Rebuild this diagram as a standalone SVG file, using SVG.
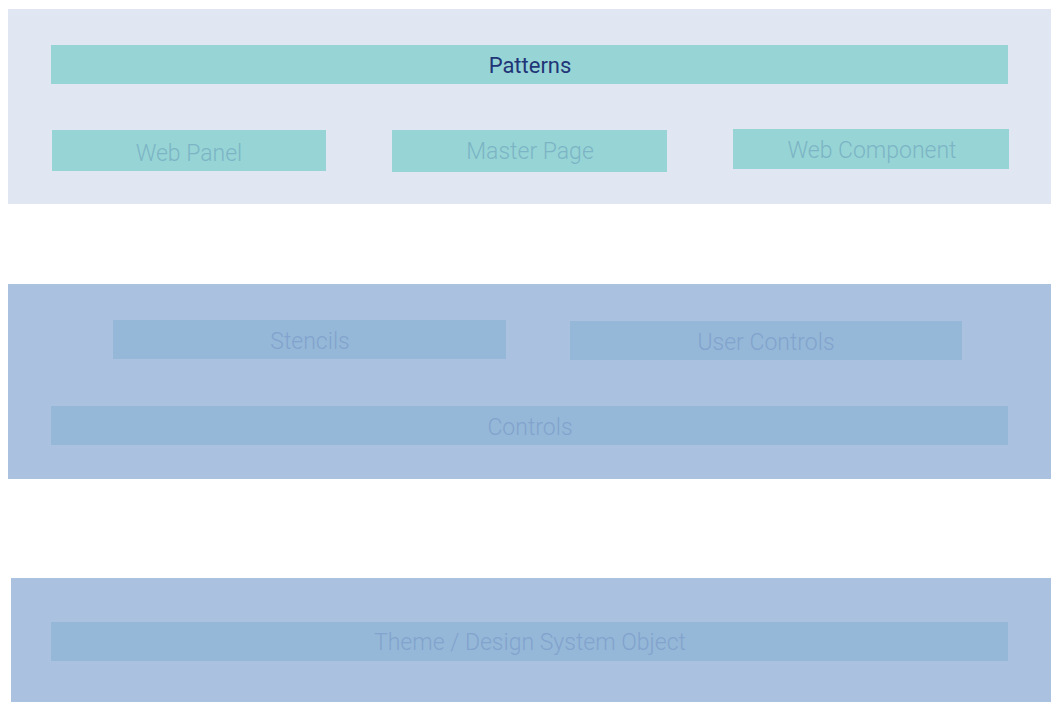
<svg xmlns="http://www.w3.org/2000/svg" width="1051" height="702" viewBox="0 0 1051 702">
  <style>
    .layer-top { fill: #e0e7f2; }
    .layer { fill: #abc1e0; }
    .teal { fill: #97d4d5; }
    .blue { fill: #95b8d8; }
    text { font-family: Roboto, "Liberation Sans", sans-serif; font-weight: 300; font-size: 23px; text-anchor: middle; }
    .lbl-main { fill: #1f3577; font-weight: 400; font-size: 22px; }
    .lbl-teal { fill: #7cb4c5; }
    .lbl-blue { fill: #82a3cd; }
  </style>
  <rect width="1051" height="702" fill="#ffffff"/>

  <!-- Layer backgrounds -->
  <rect class="layer-top" x="8" y="9" width="1043" height="195"/>
  <rect class="layer" x="8" y="284" width="1043" height="195"/>
  <rect class="layer" x="11" y="578" width="1040" height="124"/>

  <!-- Upper layer -->
  <g id="patterns">
    <rect class="teal" x="51" y="45" width="957" height="39"/>
    <text class="lbl-main" x="530" y="73">Patterns</text>
  </g>
  <g id="web-panel">
    <rect class="teal" x="52" y="130" width="274" height="41"/>
    <text class="lbl-teal" x="189" y="161">Web Panel</text>
  </g>
  <g id="master-page">
    <rect class="teal" x="392" y="130" width="275" height="42"/>
    <text class="lbl-teal" x="530" y="159">Master Page</text>
  </g>
  <g id="web-component">
    <rect class="teal" x="733" y="129" width="276" height="40"/>
    <text class="lbl-teal" x="872" y="158">Web Component</text>
  </g>

  <!-- Middle layer -->
  <g id="stencils">
    <rect class="blue" x="113" y="320" width="393" height="39"/>
    <text class="lbl-blue" x="310" y="349">Stencils</text>
  </g>
  <g id="user-controls">
    <rect class="blue" x="570" y="321" width="392" height="39"/>
    <text class="lbl-blue" x="766" y="350">User Controls</text>
  </g>
  <g id="controls">
    <rect class="blue" x="51" y="406" width="957" height="39"/>
    <text class="lbl-blue" x="530" y="435">Controls</text>
  </g>

  <!-- Bottom layer -->
  <g id="theme">
    <rect class="blue" x="51" y="622" width="957" height="39"/>
    <text class="lbl-blue" x="530" y="650">Theme / Design System Object</text>
  </g>

  <g id="connectors"></g>
</svg>
